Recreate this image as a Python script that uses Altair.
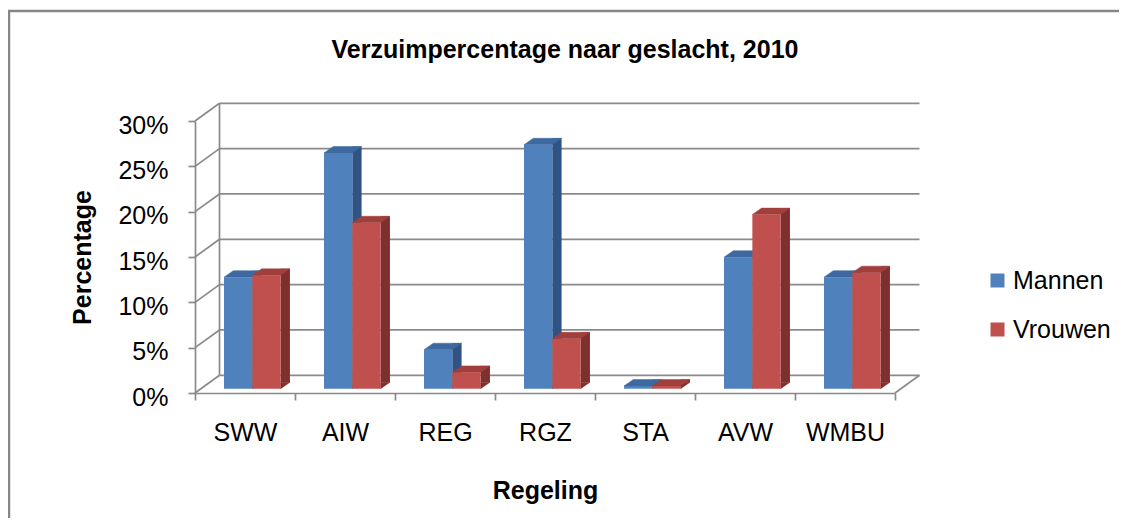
import altair as alt
import pandas as pd

# ---------------- data ----------------
categories = ["SWW", "AIW", "REG", "RGZ", "STA", "AVW", "WMBU"]
mannen = [0.123, 0.260, 0.043, 0.269, 0.003, 0.145, 0.123]
vrouwen = [0.125, 0.183, 0.018, 0.055, 0.003, 0.192, 0.128]
series = ["Mannen", "Vrouwen"]
y_ticks = [0.0, 0.05, 0.10, 0.15, 0.20, 0.25, 0.30]
title_text = "Verzuimpercentage naar geslacht, 2010"
x_title = "Regeling"
y_title = "Percentage"

# ---------------- styling ----------------
front_colors = ["#4F81BD", "#C0504D"]
top_colors = ["#3D68A0", "#A03F3C"]
side_colors = ["#2F5483", "#7E302E"]
FONT = "Liberation Sans"
GRID = "#8a8a8a"
W, H = 700, 272
DX, DY = 24.5, 17.7          # depth of the back wall
BAR_W = 28.3                 # front face width
SIDE_W, SIDE_H = 9.3, 6.5    # bar depth
LIFT = 4.3                   # bars stand slightly behind the front plane
front_offsets = [-6.85, 21.5]  # front-face centre relative to category centre

rows = []
for c, m, v in zip(categories, mannen, vrouwen):
    rows.append({"Regeling": c, "Serie": "Mannen", "Waarde": m, "nul": 0.0})
    rows.append({"Regeling": c, "Serie": "Vrouwen", "Waarde": v, "nul": 0.0})
df = pd.DataFrame(rows)
ticks_df = pd.DataFrame({"t": y_ticks})
wall_df = pd.DataFrame({"lo": [y_ticks[0]], "hi": [y_ticks[-1]]})

x_scale = alt.Scale(domain=categories, paddingInner=0, paddingOuter=0)
y_scale = alt.Scale(domain=[0, 0.30], nice=False, zero=True)

x_axis = alt.Axis(
    title=x_title, labelAngle=0, tickBand="extent", tickSize=7,
    tickColor=GRID, tickWidth=1.7, domainColor=GRID, domainWidth=1.7,
    labelFont=FONT, labelFontSize=25, labelColor="black", labelPadding=32,
    labelBaseline="middle",
    titleFont=FONT, titleFontSize=25, titleFontWeight="bold", titleColor="black",
    titleY=97, titleBaseline="middle", grid=False,
)
y_axis = alt.Axis(
    title=y_title, values=y_ticks, format=".0%", tickSize=7,
    tickColor=GRID, tickWidth=1.7, domainColor=GRID, domainWidth=1.7,
    labelFont=FONT, labelFontSize=25, labelColor="black", labelPadding=20,
    labelOffset=4,
    titleFont=FONT, titleFontSize=25, titleFontWeight="bold", titleColor="black",
    titleAngle=-90, titleX=-113, titleY=H / 2, titleAlign="center",
    titleBaseline="middle", grid=False,
)

X_enc = alt.X("Regeling:N", scale=x_scale, sort=categories, axis=x_axis)


def Y_enc(field):
    return alt.Y(field, scale=y_scale, axis=y_axis)


color_enc = alt.Color(
    "Serie:N",
    scale=alt.Scale(domain=series, range=front_colors),
    legend=alt.Legend(
        title=None, orient="none", legendX=790, legendY=147,
        symbolType="square", symbolSize=196, symbolStrokeWidth=0,
        labelFont=FONT, labelFontSize=25, labelColor="black",
        labelOffset=3, rowPadding=23, padding=0,
    ),
)

layers = []

# back wall gridlines
layers.append(
    alt.Chart(ticks_df).mark_rule(color=GRID, strokeWidth=1.7, yOffset=-DY).encode(
        x=alt.value(DX), x2=alt.value(W + DX), y=Y_enc("t:Q"),
    )
)
# diagonals from the front axis to the back wall
layers.append(
    alt.Chart(ticks_df).mark_rule(color=GRID, strokeWidth=1.7, y2Offset=-DY).encode(
        x=alt.value(0), x2=alt.value(DX), y=Y_enc("t:Q"), y2="t:Q",
    )
)
# back wall left edge
layers.append(
    alt.Chart(wall_df).mark_rule(color=GRID, strokeWidth=1.7, yOffset=-DY, y2Offset=-DY).encode(
        x=alt.value(DX), y=Y_enc("lo:Q"), y2="hi:Q",
    )
)
# floor right edge
layers.append(
    alt.Chart(wall_df).mark_rule(color=GRID, strokeWidth=1.7, y2Offset=-DY).encode(
        x=alt.value(W), x2=alt.value(W + DX), y=Y_enc("lo:Q"), y2="lo:Q",
    )
)

top_path = "M-0.7075,0L0.7075,0L1.1725,-0.325L-0.2425,-0.325Z"
tri_path = "M0,0L0,-0.325L0.465,-0.325Z"

for k, s in enumerate(series):
    base = alt.Chart(df).transform_filter(alt.datum.Serie == s)
    off_f = front_offsets[k]
    off_r = off_f + BAR_W / 2
    # side face (rectangle part)
    layers.append(
        base.mark_bar(
            color=side_colors[k], width=SIDE_W, xOffset=off_r + SIDE_W / 2,
            yOffset=-(LIFT + SIDE_H), y2Offset=-(LIFT + SIDE_H),
        ).encode(x=X_enc, y=Y_enc("Waarde:Q"), y2="nul:Q")
    )
    # side face (bottom triangle)
    layers.append(
        base.mark_point(
            shape=tri_path, size=1600, filled=True, fill=side_colors[k],
            stroke=side_colors[k], strokeWidth=0.5, opacity=1,
            xOffset=off_r, yOffset=-LIFT,
        ).encode(x=X_enc, y=Y_enc("nul:Q"))
    )
    # top face
    layers.append(
        base.mark_point(
            shape=top_path, size=1600, filled=True, fill=top_colors[k],
            stroke=top_colors[k], strokeWidth=0.5, opacity=1,
            xOffset=off_f, yOffset=-LIFT,
        ).encode(x=X_enc, y=Y_enc("Waarde:Q"))
    )
    # front face
    layers.append(
        base.mark_bar(width=BAR_W, xOffset=off_f, yOffset=-LIFT, y2Offset=-LIFT).encode(
            x=X_enc, y=Y_enc("Waarde:Q"), y2="nul:Q", color=color_enc,
        )
    )

# chart title
title_df = pd.DataFrame({"t": [title_text]})
layers.append(
    alt.Chart(title_df).mark_text(
        font=FONT, fontSize=25, fontWeight="bold", color="black",
        align="center", baseline="middle",
    ).encode(x=alt.value(370), y=alt.value(-71), text="t:N")
)

# outer frame (left and top edges)
layers.append(
    alt.Chart(title_df).mark_rule(color="#868686", strokeWidth=2.5).encode(
        x=alt.value(-186), y=alt.value(-110), y2=alt.value(H + 130),
    )
)
layers.append(
    alt.Chart(title_df).mark_rule(color="#868686", strokeWidth=2.5).encode(
        x=alt.value(-187), x2=alt.value(W + 230), y=alt.value(-110),
    )
)

chart = alt.layer(*layers).properties(
    width=W, height=H,
    autosize=alt.AutoSizeParams(type="none"),
    padding={"left": 187, "top": 113, "right": 224, "bottom": 125},
).configure(background="white").configure_view(strokeWidth=0)

chart.save("out.html", embed_options={"renderer": "svg", "actions": False})
